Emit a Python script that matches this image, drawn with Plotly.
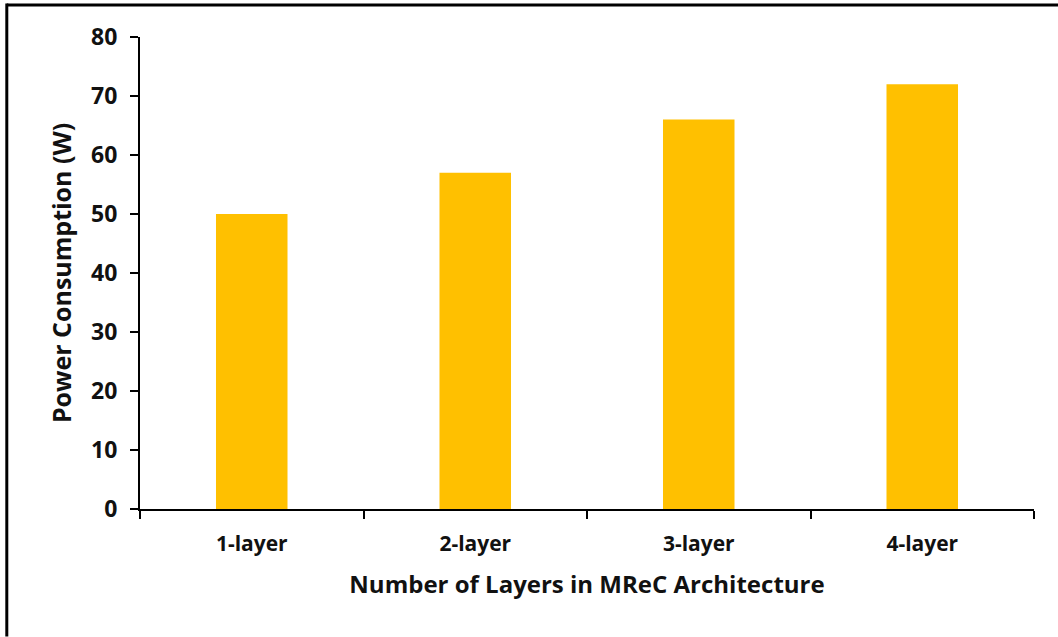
import plotly.graph_objects as go

categories = ["1-layer", "2-layer", "3-layer", "4-layer"]
power_w = [50, 57, 66, 72]
y_ticks = [0, 10, 20, 30, 40, 50, 60, 70, 80]

FONT = "Open Sans"

fig = go.Figure()
fig.add_trace(go.Bar(
    x=categories, y=power_w, width=0.32,
    marker=dict(color="#FFC000", line=dict(width=0)),
))

fig.update_layout(
    width=1058, height=637,
    margin=dict(l=140, r=24, t=37, b=128),
    paper_bgcolor="white", plot_bgcolor="white",
    showlegend=False,
    font=dict(family=FONT, color="black", size=19),
    xaxis=dict(
        tickson="boundaries", ticks="outside", ticklen=8, tickwidth=2, tickcolor="black",
        showline=True, linecolor="black", linewidth=2, showgrid=False,
        tickfont=dict(family=FONT, size=21, color="#111", weight="bold"),
        title=dict(text="Number of Layers in MReC Architecture",
                   font=dict(family=FONT, size=24, color="#111", weight="bold"), standoff=20),
        ticklabelstandoff=15,
    ),
    yaxis=dict(
        range=[0, 80], tickvals=y_ticks, ticks="outside", ticklen=8, tickwidth=2, tickcolor="black",
        showline=True, linecolor="black", linewidth=2, showgrid=False, zeroline=False,
        tickfont=dict(family=FONT, size=23, color="#111", weight="bold"),
        title=dict(text="Power Consumption (W)",
                   font=dict(family=FONT, size=25, color="#111", weight="bold"), standoff=12),
        ticklabelstandoff=8,
    ),
)

# outer frame (top and left edges)
fig.add_shape(type="line", xref="paper", yref="paper", x0=-0.149, x1=1.03, y0=1.068, y1=1.068,
              line=dict(color="black", width=3))
fig.add_shape(type="line", xref="paper", yref="paper", x0=-0.149, x1=-0.149, y0=-0.27, y1=1.071,
              line=dict(color="black", width=3))

fig.write_html("out.html")
